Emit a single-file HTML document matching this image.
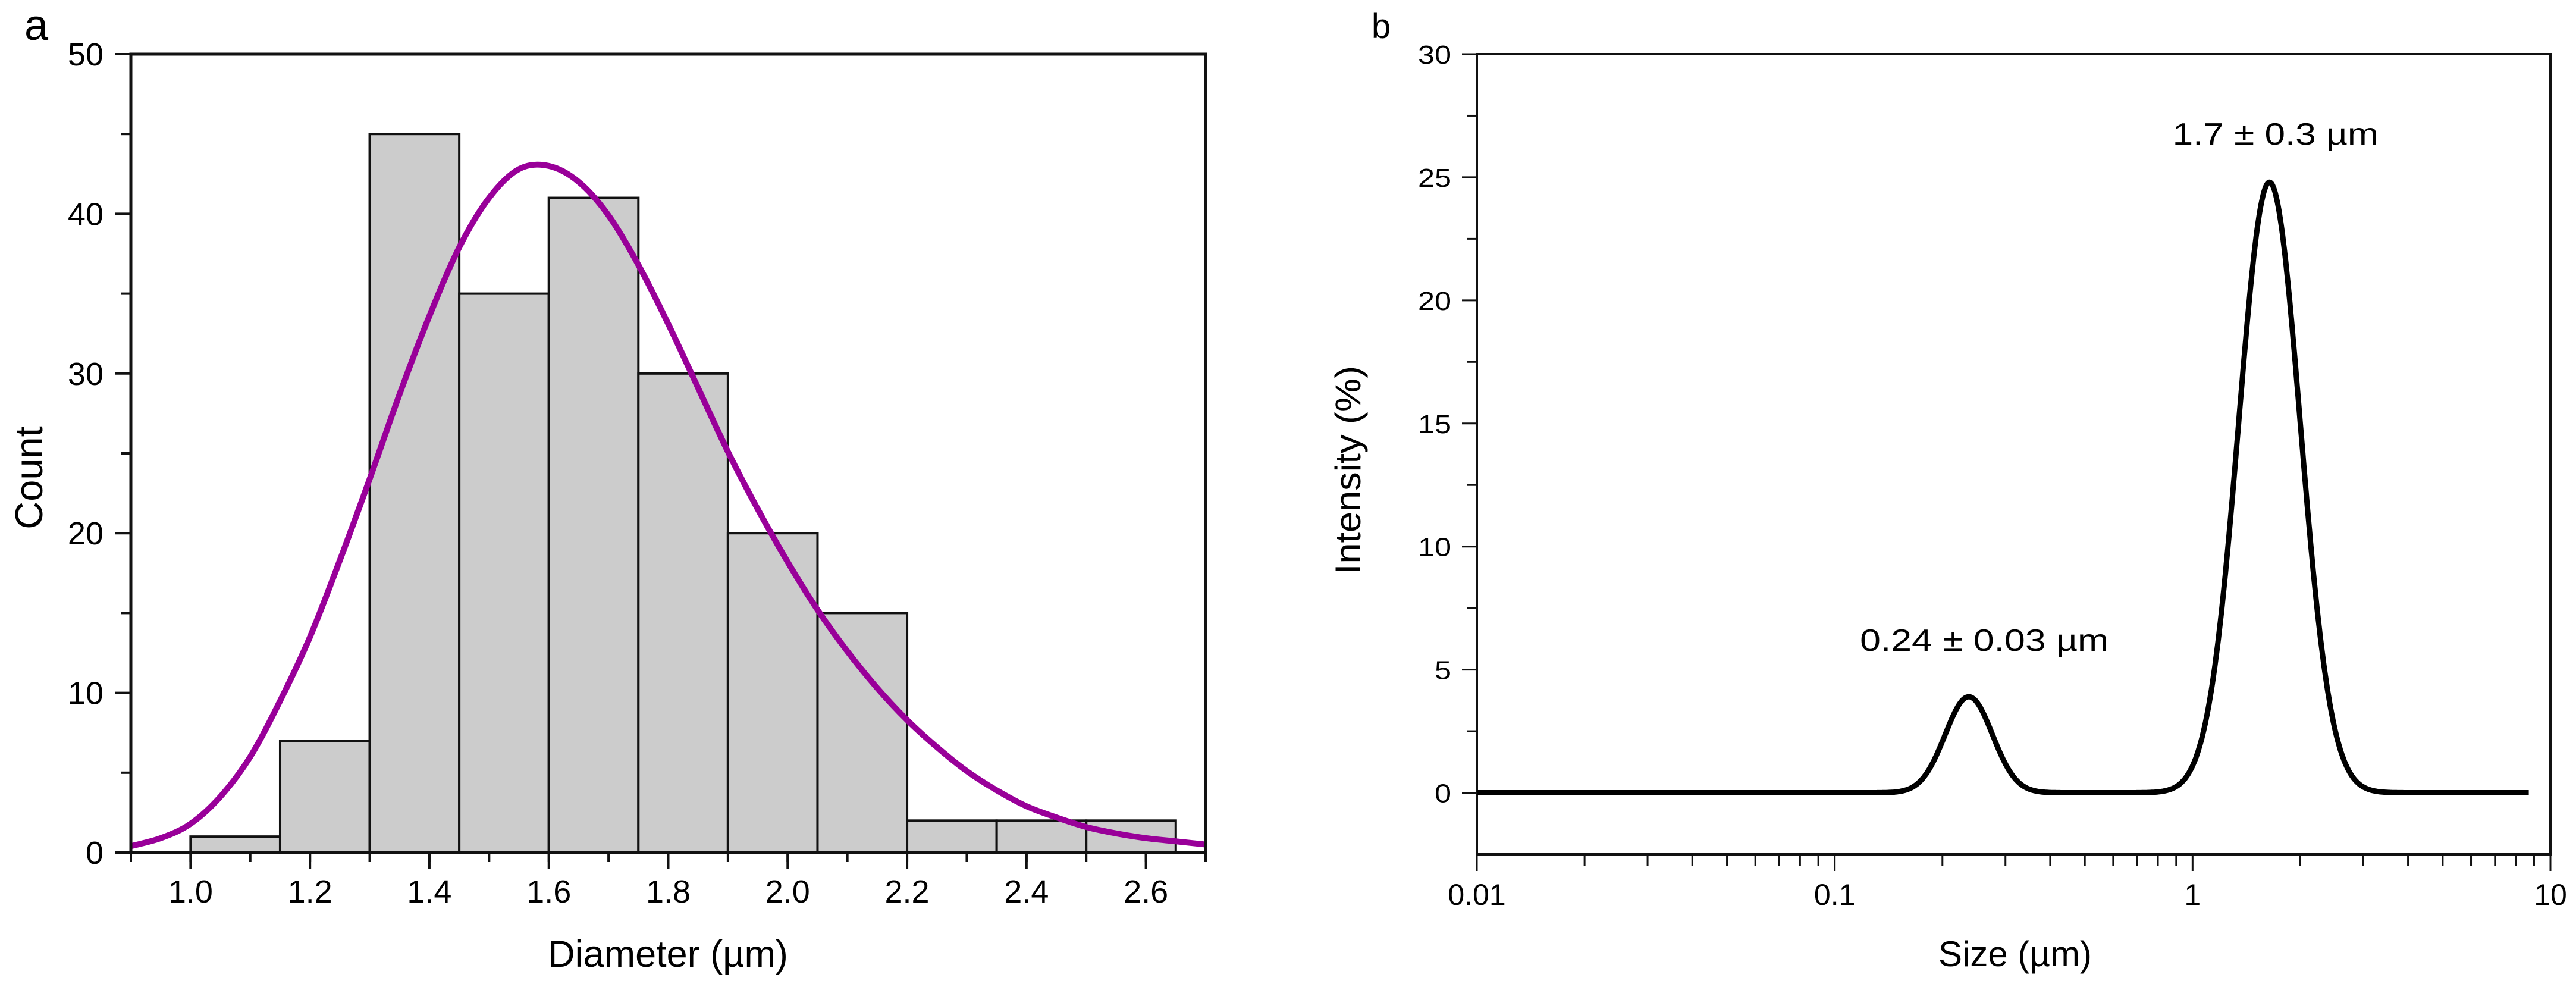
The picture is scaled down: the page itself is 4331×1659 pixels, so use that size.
<!DOCTYPE html>
<html><head><meta charset="utf-8">
<style>
html,body{margin:0;padding:0;background:#fff;}
svg{display:block;font-family:"Liberation Sans",Arial,sans-serif;}
</style></head>
<body>
<svg id="fig" width="4331" height="1659" viewBox="0 0 4331 1659" xmlns="http://www.w3.org/2000/svg">
<text x="61" y="67" font-size="72" text-anchor="middle">a</text>
<text x="2322" y="64" font-size="58" text-anchor="middle">b</text>
<g id="pa"></g>
<g id="pb"></g>
</svg>
<script>
// ---- Panel a data ----
const binEdgesStart = [1.0,1.15,1.3,1.45,1.6,1.75,1.9,2.05,2.2,2.35,2.5];
const binWidth = 0.15;
const binCounts = [1,7,45,35,41,30,20,15,2,2,2];
const fitX = [0.9,0.95,1.0,1.05,1.1,1.15,1.2,1.25,1.3,1.35,1.4,1.45,1.5,1.55,1.6,1.65,1.7,1.75,1.8,1.85,1.9,1.95,2.0,2.05,2.1,2.15,2.2,2.25,2.3,2.35,2.4,2.45,2.5,2.55,2.6,2.65,2.7];
const fitY = [0.4,0.9,1.8,3.5,6.0,9.5,13.5,18.3,23.4,28.7,33.6,37.9,41.0,42.8,43.0,42.0,39.9,36.8,33.1,29.1,25.1,21.5,18.2,15.2,12.6,10.3,8.3,6.6,5.1,3.9,2.9,2.2,1.6,1.2,0.9,0.7,0.5];
const aXTicks = [1.0,1.2,1.4,1.6,1.8,2.0,2.2,2.4,2.6];
const aXTickLabels = ["1.0","1.2","1.4","1.6","1.8","2.0","2.2","2.4","2.6"];
const aYTicks = [0,10,20,30,40,50];
const aYTickLabels = ["0","10","20","30","40","50"];
// ---- Panel b data ----
const peakCenters = [0.237, 1.64];
const peakHeights = [3.9, 24.8];
const peakLogSigmas = [0.066, 0.086];
const bXTicks = [0.01,0.1,1,10];
const bXTickLabels = ["0.01","0.1","1","10"];
const bYTicks = [0,5,10,15,20,25,30];
const bYTickLabels = ["0","5","10","15","20","25","30"];
const peakLabels = ["0.24 \u00b1 0.03 \u00b5m","1.7 \u00b1 0.3 \u00b5m"];

const NS="http://www.w3.org/2000/svg";
function mk(parent,tag,attrs,txt){const e=document.createElementNS(NS,tag);for(const k in attrs)e.setAttribute(k,attrs[k]);if(txt!==undefined)e.textContent=txt;parent.appendChild(e);return e;}

const aL=220,aR=2027,aT=91,aB=1433,aX0=0.9,aX1=2.7,aY0=0,aY1=50;
const ax=v=>aL+(v-aX0)/(aX1-aX0)*(aR-aL);
const ay=v=>aB-(v-aY0)/(aY1-aY0)*(aB-aT);
const pa=document.getElementById('pa');
binCounts.forEach((c,i)=>{
  const r=mk(pa,'rect',{x:ax(binEdgesStart[i]),y:ay(c),width:ax(binEdgesStart[i]+binWidth)-ax(binEdgesStart[i]),height:ay(0)-ay(c),fill:'#cccccc',stroke:'#111',"stroke-width":4});
  
  
});
(function(){
  const P=fitX.map((x,i)=>[ax(x),ay(fitY[i])]);
  let d='M'+P[0][0]+','+P[0][1];
  for(let i=0;i<P.length-1;i++){
    const p0=P[Math.max(0,i-1)],p1=P[i],p2=P[i+1],p3=P[Math.min(P.length-1,i+2)];
    d+=' C'+(p1[0]+(p2[0]-p0[0])/6)+','+(p1[1]+(p2[1]-p0[1])/6)+' '+(p2[0]-(p3[0]-p1[0])/6)+','+(p2[1]-(p3[1]-p1[1])/6)+' '+p2[0]+','+p2[1];
  }
  const c=mk(pa,'path',{d:d,fill:'none',stroke:'#990099',"stroke-width":10});
  
  
})();
const fa=mk(pa,'rect',{x:aL,y:aT,width:aR-aL,height:aB-aT,fill:'none',stroke:'#111',"stroke-width":5});


for(let v=0.9;v<=2.71;v+=0.1){const x=ax(v);mk(pa,'line',{x1:x,y1:aB,x2:x,y2:aB+16,stroke:'#111',"stroke-width":4});}
aXTicks.forEach((v,i)=>{const x=ax(v);mk(pa,'line',{x1:x,y1:aB,x2:x,y2:aB+27,stroke:'#111',"stroke-width":4});
  const t=mk(pa,'text',{x:x,y:1517,"font-size":54,"text-anchor":"middle"},aXTickLabels[i]);
  
  });
for(let v=5;v<50;v+=10){const y=ay(v);mk(pa,'line',{x1:aL-16,y1:y,x2:aL,y2:y,stroke:'#111',"stroke-width":4});}
aYTicks.forEach((v,i)=>{const y=ay(v);mk(pa,'line',{x1:aL-27,y1:y,x2:aL,y2:y,stroke:'#111',"stroke-width":4});
  const t=mk(pa,'text',{x:174,y:y+19,"font-size":54,"text-anchor":"end"},aYTickLabels[i]);
  
  });
let t=mk(pa,'text',{x:1123,y:1625,"font-size":63,"text-anchor":"middle"},'Diameter (\u00b5m)');


t=mk(pa,'text',{x:0,y:0,"font-size":65,"text-anchor":"middle",transform:'translate(71,803) rotate(-90)'},'Count');



const bL=2483,bR=4288,bT=91,bB=1436,bLX0=-2,bLX1=1,bY0=-2.5,bY1=30;
const bx=v=>bL+(Math.log10(v)-bLX0)/(bLX1-bLX0)*(bR-bL);
const by=v=>bB-(v-bY0)/(bY1-bY0)*(bB-bT);
const pb=document.getElementById('pb');
const fb=mk(pb,'rect',{x:bL,y:bT,width:bR-bL,height:bB-bT,fill:'none',stroke:'#111',"stroke-width":4});


for(let d=-2;d<1;d++)for(let m=2;m<=9;m++){const x=bx(m*Math.pow(10,d));mk(pb,'line',{x1:x,y1:bB,x2:x,y2:bB+19,stroke:'#111',"stroke-width":3});}
bXTicks.forEach((v,i)=>{const x=bx(v);mk(pb,'line',{x1:x,y1:bB,x2:x,y2:bB+28,stroke:'#111',"stroke-width":3});
  const t=mk(pb,'text',{x:x,y:1521,"font-size":50,"text-anchor":"middle"},bXTickLabels[i]);
  
  });
for(let v=2.5;v<30;v+=5){const y=by(v);mk(pb,'line',{x1:bL-16,y1:y,x2:bL,y2:y,stroke:'#111',"stroke-width":3});}
bYTicks.forEach((v,i)=>{const y=by(v);mk(pb,'line',{x1:bL-25,y1:y,x2:bL,y2:y,stroke:'#111',"stroke-width":3});
  const t=mk(pb,'text',{x:2440,y:y+16,"font-size":44,"text-anchor":"end",textLength:bYTickLabels[i].length*28,lengthAdjust:"spacingAndGlyphs"},bYTickLabels[i]);
  
  });
(function(){
  let d='';
  const lo=-2, hi=Math.log10(8.7);
  for(let k=0;k<=1200;k++){
    const lx=lo+(hi-lo)*k/1200, v=Math.pow(10,lx);
    let yv=0;
    peakCenters.forEach((c,i)=>{const z=(lx-Math.log10(c))/peakLogSigmas[i];yv+=peakHeights[i]*Math.exp(-0.5*z*z);});
    d+=(k?' L':'M')+bx(v).toFixed(1)+','+by(yv).toFixed(1);
  }
  const c=mk(pb,'path',{d:d,fill:'none',stroke:'#000',"stroke-width":9,"stroke-linejoin":"round"});
  
  
})();
const labelY=[1094,243], labelW=[418,346];
peakLabels.forEach((s,i)=>{
  const t=mk(pb,'text',{x:bx(peakCenters[i])+(i?10:26),y:labelY[i],"font-size":52,"text-anchor":"middle",textLength:labelW[i],lengthAdjust:"spacingAndGlyphs"},s);
  
  
});
t=mk(pb,'text',{x:3388,y:1624,"font-size":60,"text-anchor":"middle"},'Size (\u00b5m)');


t=mk(pb,'text',{x:0,y:0,"font-size":60,"text-anchor":"middle",textLength:350,lengthAdjust:"spacingAndGlyphs",transform:'translate(2287,790) rotate(-90)'},'Intensity (%)');


</script>
</body></html>
